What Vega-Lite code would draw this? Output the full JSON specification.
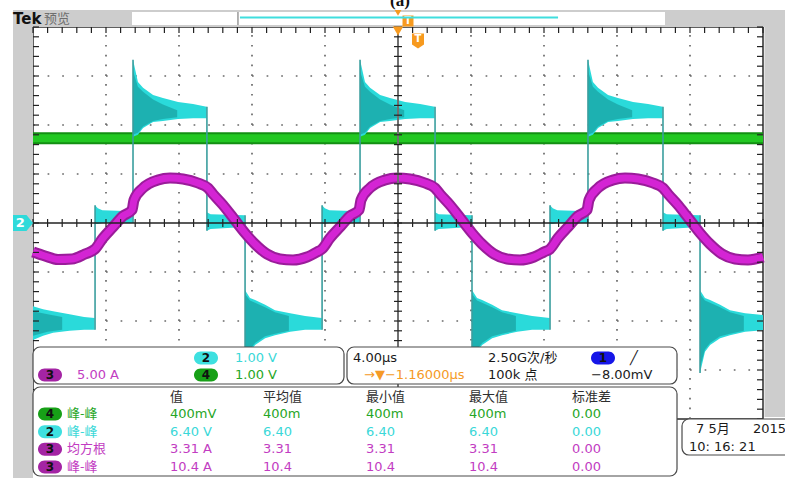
{
"$schema": "https://vega.github.io/schema/vega-lite/v6.json",
"width": 730, "height": 392,
"autosize": {"type": "none"},
"padding": {"left": 33, "top": 27, "right": 22, "bottom": 59},
"background": "white",
"config": {"view": {"stroke": "#2b2b2b", "strokeWidth": 1.5}},
"datasets": {
"ch3": [{"t":-20.000,"v":-0.592},{"t":-19.343,"v":-0.673},{"t":-18.630,"v":-0.745},{"t":-17.863,"v":-0.735},{"t":-17.151,"v":-0.633},{"t":-16.603,"v":-0.531},{"t":-16.164,"v":-0.306},{"t":-15.617,"v":-0.082},{"t":-15.069,"v":0.143},{"t":-14.575,"v":0.265},{"t":-14.466,"v":0.469},{"t":-13.973,"v":0.714},{"t":-13.151,"v":0.878},{"t":-12.493,"v":0.918},{"t":-11.781,"v":0.898},{"t":-10.959,"v":0.816},{"t":-10.411,"v":0.714},{"t":-10.137,"v":0.592},{"t":-9.589,"v":0.367},{"t":-9.151,"v":0.163},{"t":-8.384,"v":-0.204},{"t":-7.836,"v":-0.429},{"t":-7.178,"v":-0.633},{"t":-6.466,"v":-0.735},{"t":-5.753,"v":-0.755},{"t":-4.986,"v":-0.694},{"t":-4.438,"v":-0.592},{"t":-4.164,"v":-0.531},{"t":-3.726,"v":-0.306},{"t":-3.178,"v":-0.082},{"t":-2.630,"v":0.143},{"t":-2.137,"v":0.265},{"t":-2.027,"v":0.469},{"t":-1.534,"v":0.714},{"t":-0.712,"v":0.878},{"t":-0.055,"v":0.918},{"t":0.658,"v":0.898},{"t":1.479,"v":0.816},{"t":2.027,"v":0.714},{"t":2.301,"v":0.592},{"t":2.849,"v":0.367},{"t":3.288,"v":0.163},{"t":4.055,"v":-0.204},{"t":4.603,"v":-0.429},{"t":5.260,"v":-0.633},{"t":5.973,"v":-0.735},{"t":6.685,"v":-0.755},{"t":7.452,"v":-0.694},{"t":8.000,"v":-0.592},{"t":8.329,"v":-0.531},{"t":8.767,"v":-0.306},{"t":9.315,"v":-0.082},{"t":9.863,"v":0.143},{"t":10.356,"v":0.265},{"t":10.466,"v":0.469},{"t":10.959,"v":0.714},{"t":11.781,"v":0.878},{"t":12.438,"v":0.918},{"t":13.151,"v":0.898},{"t":13.973,"v":0.816},{"t":14.521,"v":0.714},{"t":14.795,"v":0.592},{"t":15.342,"v":0.367},{"t":15.781,"v":0.163},{"t":16.548,"v":-0.204},{"t":17.096,"v":-0.429},{"t":17.753,"v":-0.633},{"t":18.466,"v":-0.735},{"t":19.178,"v":-0.755},{"t":20.000,"v":-0.694}],
"ch4": [{"t":-20,"v":1.73},{"t":20,"v":1.73}],
"ch2": [
{"seg":"L0","t":-20.0,"lo":-2.39,"hi":-1.70},{"seg":"L0","t":-19.45,"lo":-2.30,"hi":-1.76},{"seg":"L0","t":-18.9,"lo":-2.24,"hi":-1.80},{"seg":"L0","t":-18.0,"lo":-2.20,"hi":-1.86},{"seg":"L0","t":-17.2,"lo":-2.18,"hi":-1.92},{"seg":"L0","t":-16.62,"lo":-2.18,"hi":-1.94},
{"seg":"M1","t":-16.60,"lo":-0.02,"hi":0.36},{"seg":"M1","t":-16.45,"lo":-0.02,"hi":0.30},{"seg":"M1","t":-16.2,"lo":0.0,"hi":0.26},{"seg":"M1","t":-14.54,"lo":0.0,"hi":0.24},
{"seg":"H1","t":-14.52,"lo":1.76,"hi":3.33},{"seg":"H1","t":-14.25,"lo":1.80,"hi":2.88},{"seg":"H1","t":-13.97,"lo":1.94,"hi":2.76},{"seg":"H1","t":-13.42,"lo":2.06,"hi":2.61},{"seg":"H1","t":-12.88,"lo":2.08,"hi":2.55},{"seg":"H1","t":-12.05,"lo":2.12,"hi":2.47},{"seg":"H1","t":-11.23,"lo":2.14,"hi":2.43},{"seg":"H1","t":-10.49,"lo":2.14,"hi":2.37},
{"seg":"D1","t":-10.47,"lo":-0.16,"hi":0.22},{"seg":"D1","t":-10.27,"lo":-0.12,"hi":0.18},{"seg":"D1","t":-8.40,"lo":-0.08,"hi":0.16},
{"seg":"L1","t":-8.38,"lo":-3.06,"hi":-1.37},{"seg":"L1","t":-8.11,"lo":-2.63,"hi":-1.53},{"seg":"L1","t":-7.83,"lo":-2.49,"hi":-1.57},{"seg":"L1","t":-7.28,"lo":-2.35,"hi":-1.67},{"seg":"L1","t":-6.74,"lo":-2.29,"hi":-1.78},{"seg":"L1","t":-5.91,"lo":-2.22,"hi":-1.84},{"seg":"L1","t":-5.09,"lo":-2.18,"hi":-1.90},{"seg":"L1","t":-4.18,"lo":-2.18,"hi":-1.94},
{"seg":"M2","t":-4.16,"lo":-0.02,"hi":0.36},{"seg":"M2","t":-4.01,"lo":-0.02,"hi":0.30},{"seg":"M2","t":-3.76,"lo":0.0,"hi":0.26},{"seg":"M2","t":-2.10,"lo":0.0,"hi":0.24},
{"seg":"H2","t":-2.08,"lo":1.76,"hi":3.33},{"seg":"H2","t":-1.81,"lo":1.80,"hi":2.88},{"seg":"H2","t":-1.53,"lo":1.94,"hi":2.76},{"seg":"H2","t":-0.98,"lo":2.06,"hi":2.61},{"seg":"H2","t":-0.44,"lo":2.08,"hi":2.55},{"seg":"H2","t":0.39,"lo":2.12,"hi":2.47},{"seg":"H2","t":1.21,"lo":2.14,"hi":2.43},{"seg":"H2","t":2.01,"lo":2.14,"hi":2.37},
{"seg":"D2","t":2.03,"lo":-0.16,"hi":0.22},{"seg":"D2","t":2.23,"lo":-0.12,"hi":0.18},{"seg":"D2","t":4.04,"lo":-0.08,"hi":0.16},
{"seg":"L2","t":4.06,"lo":-3.06,"hi":-1.37},{"seg":"L2","t":4.33,"lo":-2.63,"hi":-1.53},{"seg":"L2","t":4.61,"lo":-2.49,"hi":-1.57},{"seg":"L2","t":5.16,"lo":-2.35,"hi":-1.67},{"seg":"L2","t":5.70,"lo":-2.29,"hi":-1.78},{"seg":"L2","t":6.53,"lo":-2.22,"hi":-1.84},{"seg":"L2","t":7.35,"lo":-2.18,"hi":-1.90},{"seg":"L2","t":8.31,"lo":-2.18,"hi":-1.94},
{"seg":"M3","t":8.33,"lo":-0.02,"hi":0.36},{"seg":"M3","t":8.48,"lo":-0.02,"hi":0.30},{"seg":"M3","t":8.73,"lo":0.0,"hi":0.26},{"seg":"M3","t":10.39,"lo":0.0,"hi":0.24},
{"seg":"H3","t":10.41,"lo":1.76,"hi":3.33},{"seg":"H3","t":10.68,"lo":1.80,"hi":2.88},{"seg":"H3","t":10.96,"lo":1.94,"hi":2.76},{"seg":"H3","t":11.51,"lo":2.06,"hi":2.61},{"seg":"H3","t":12.05,"lo":2.08,"hi":2.55},{"seg":"H3","t":12.88,"lo":2.12,"hi":2.47},{"seg":"H3","t":13.70,"lo":2.14,"hi":2.43},{"seg":"H3","t":14.50,"lo":2.14,"hi":2.37},
{"seg":"D3","t":14.52,"lo":-0.16,"hi":0.22},{"seg":"D3","t":14.72,"lo":-0.12,"hi":0.18},{"seg":"D3","t":16.53,"lo":-0.08,"hi":0.16},
{"seg":"L3","t":16.55,"lo":-3.06,"hi":-1.37},{"seg":"L3","t":16.82,"lo":-2.63,"hi":-1.53},{"seg":"L3","t":17.10,"lo":-2.49,"hi":-1.57},{"seg":"L3","t":17.65,"lo":-2.35,"hi":-1.67},{"seg":"L3","t":18.19,"lo":-2.29,"hi":-1.78},{"seg":"L3","t":19.02,"lo":-2.22,"hi":-1.84},{"seg":"L3","t":20.0,"lo":-2.19,"hi":-1.88}],
"ch2dk": [
{"seg":"L0","t":-20.0,"lo":-2.30,"hi":-1.80},{"seg":"L0","t":-19.2,"lo":-2.22,"hi":-1.86},{"seg":"L0","t":-18.4,"lo":-2.18,"hi":-1.92},
{"seg":"H1","t":-14.52,"lo":1.80,"hi":3.1},{"seg":"H1","t":-14.25,"lo":1.84,"hi":2.78},{"seg":"H1","t":-13.97,"lo":1.97,"hi":2.68},{"seg":"H1","t":-13.42,"lo":2.08,"hi":2.52},{"seg":"H1","t":-12.88,"lo":2.12,"hi":2.42},{"seg":"H1","t":-12.1,"lo":2.16,"hi":2.3},
{"seg":"L1","t":-8.38,"lo":-2.95,"hi":-1.45},{"seg":"L1","t":-8.11,"lo":-2.58,"hi":-1.58},{"seg":"L1","t":-7.83,"lo":-2.45,"hi":-1.63},{"seg":"L1","t":-7.28,"lo":-2.31,"hi":-1.72},{"seg":"L1","t":-6.74,"lo":-2.26,"hi":-1.82},{"seg":"L1","t":-5.98,"lo":-2.2,"hi":-1.9},
{"seg":"H2","t":-2.08,"lo":1.80,"hi":3.1},{"seg":"H2","t":-1.81,"lo":1.84,"hi":2.78},{"seg":"H2","t":-1.53,"lo":1.97,"hi":2.68},{"seg":"H2","t":-0.98,"lo":2.08,"hi":2.52},{"seg":"H2","t":-0.44,"lo":2.12,"hi":2.42},{"seg":"H2","t":0.34,"lo":2.16,"hi":2.3},
{"seg":"L2","t":4.06,"lo":-2.95,"hi":-1.45},{"seg":"L2","t":4.33,"lo":-2.58,"hi":-1.58},{"seg":"L2","t":4.61,"lo":-2.45,"hi":-1.63},{"seg":"L2","t":5.16,"lo":-2.31,"hi":-1.72},{"seg":"L2","t":5.70,"lo":-2.26,"hi":-1.82},{"seg":"L2","t":6.46,"lo":-2.2,"hi":-1.9},
{"seg":"H3","t":10.41,"lo":1.80,"hi":3.1},{"seg":"H3","t":10.68,"lo":1.84,"hi":2.78},{"seg":"H3","t":10.96,"lo":1.97,"hi":2.68},{"seg":"H3","t":11.51,"lo":2.08,"hi":2.52},{"seg":"H3","t":12.05,"lo":2.12,"hi":2.42},{"seg":"H3","t":12.83,"lo":2.16,"hi":2.3},
{"seg":"L3","t":16.55,"lo":-2.95,"hi":-1.45},{"seg":"L3","t":16.82,"lo":-2.58,"hi":-1.58},{"seg":"L3","t":17.10,"lo":-2.45,"hi":-1.63},{"seg":"L3","t":17.65,"lo":-2.31,"hi":-1.72},{"seg":"L3","t":18.19,"lo":-2.26,"hi":-1.82},{"seg":"L3","t":18.95,"lo":-2.2,"hi":-1.9}],
"ch2e": [{"t":-16.60,"a":-2.18,"b":0.36},{"t":-14.52,"a":0.0,"b":3.33},{"t":-10.47,"a":2.37,"b":-0.16},{"t":-8.38,"a":0.16,"b":-3.06},{"t":-4.16,"a":-2.18,"b":0.36},{"t":-2.08,"a":0.0,"b":3.33},{"t":2.03,"a":2.37,"b":-0.16},{"t":4.055,"a":0.16,"b":-3.06},{"t":8.33,"a":-2.18,"b":0.36},{"t":10.41,"a":0.0,"b":3.33},{"t":14.52,"a":2.37,"b":-0.16},{"t":16.55,"a":0.16,"b":-3.06}],
"gx": [{"t":-16,"a":-4,"b":4},{"t":-12,"a":-4,"b":4},{"t":-8,"a":-4,"b":4},{"t":-4,"a":-4,"b":4},{"t":4,"a":-4,"b":4},{"t":8,"a":-4,"b":4},{"t":12,"a":-4,"b":4},{"t":16,"a":-4,"b":4}],
"gy": [{"v":-3,"a":-20,"b":20},{"v":-2,"a":-20,"b":20},{"v":-1,"a":-20,"b":20},{"v":1,"a":-20,"b":20},{"v":2,"a":-20,"b":20},{"v":3,"a":-20,"b":20}],
"cv": [{"t":0,"a":-4,"b":4}],
"chz": [{"v":0,"a":-20,"b":20}],
"topline": [{"t":-8.66,"t2":8.77,"v":4.194}],
"bracket": [{"t":-8.77,"a":4.306,"b":4.041}],
"xm": [{"t":-20,"c":0,"e":4},{"t":-19.2,"c":0,"e":4},{"t":-18.4,"c":0,"e":4},{"t":-17.6,"c":0,"e":4},{"t":-16.8,"c":0,"e":4},{"t":-16,"c":0,"e":4},{"t":-15.2,"c":0,"e":4},{"t":-14.4,"c":0,"e":4},{"t":-13.6,"c":0,"e":4},{"t":-12.8,"c":0,"e":4},{"t":-12,"c":0,"e":4},{"t":-11.2,"c":0,"e":4},{"t":-10.4,"c":0,"e":4},{"t":-9.6,"c":0,"e":4},{"t":-8.8,"c":0,"e":4},{"t":-8,"c":0,"e":4},{"t":-7.2,"c":0,"e":4},{"t":-6.4,"c":0,"e":4},{"t":-5.6,"c":0,"e":4},{"t":-4.8,"c":0,"e":4},{"t":-4,"c":0,"e":4},{"t":-3.2,"c":0,"e":4},{"t":-2.4,"c":0,"e":4},{"t":-1.6,"c":0,"e":4},{"t":-0.8,"c":0,"e":4},{"t":0,"c":0,"e":4},{"t":0.8,"c":0,"e":4},{"t":1.6,"c":0,"e":4},{"t":2.4,"c":0,"e":4},{"t":3.2,"c":0,"e":4},{"t":4,"c":0,"e":4},{"t":4.8,"c":0,"e":4},{"t":5.6,"c":0,"e":4},{"t":6.4,"c":0,"e":4},{"t":7.2,"c":0,"e":4},{"t":8,"c":0,"e":4},{"t":8.8,"c":0,"e":4},{"t":9.6,"c":0,"e":4},{"t":10.4,"c":0,"e":4},{"t":11.2,"c":0,"e":4},{"t":12,"c":0,"e":4},{"t":12.8,"c":0,"e":4},{"t":13.6,"c":0,"e":4},{"t":14.4,"c":0,"e":4},{"t":15.2,"c":0,"e":4},{"t":16,"c":0,"e":4},{"t":16.8,"c":0,"e":4},{"t":17.6,"c":0,"e":4},{"t":18.4,"c":0,"e":4},{"t":19.2,"c":0,"e":4},{"t":20,"c":0,"e":4}],
"ym": [{"v":-4,"c":0,"l":-20,"r":20},{"v":-3.8,"c":0,"l":-20,"r":20},{"v":-3.6,"c":0,"l":-20,"r":20},{"v":-3.4,"c":0,"l":-20,"r":20},{"v":-3.2,"c":0,"l":-20,"r":20},{"v":-3,"c":0,"l":-20,"r":20},{"v":-2.8,"c":0,"l":-20,"r":20},{"v":-2.6,"c":0,"l":-20,"r":20},{"v":-2.4,"c":0,"l":-20,"r":20},{"v":-2.2,"c":0,"l":-20,"r":20},{"v":-2,"c":0,"l":-20,"r":20},{"v":-1.8,"c":0,"l":-20,"r":20},{"v":-1.6,"c":0,"l":-20,"r":20},{"v":-1.4,"c":0,"l":-20,"r":20},{"v":-1.2,"c":0,"l":-20,"r":20},{"v":-1,"c":0,"l":-20,"r":20},{"v":-0.8,"c":0,"l":-20,"r":20},{"v":-0.6,"c":0,"l":-20,"r":20},{"v":-0.4,"c":0,"l":-20,"r":20},{"v":-0.2,"c":0,"l":-20,"r":20},{"v":0,"c":0,"l":-20,"r":20},{"v":0.2,"c":0,"l":-20,"r":20},{"v":0.4,"c":0,"l":-20,"r":20},{"v":0.6,"c":0,"l":-20,"r":20},{"v":0.8,"c":0,"l":-20,"r":20},{"v":1,"c":0,"l":-20,"r":20},{"v":1.2,"c":0,"l":-20,"r":20},{"v":1.4,"c":0,"l":-20,"r":20},{"v":1.6,"c":0,"l":-20,"r":20},{"v":1.8,"c":0,"l":-20,"r":20},{"v":2,"c":0,"l":-20,"r":20},{"v":2.2,"c":0,"l":-20,"r":20},{"v":2.4,"c":0,"l":-20,"r":20},{"v":2.6,"c":0,"l":-20,"r":20},{"v":2.8,"c":0,"l":-20,"r":20},{"v":3,"c":0,"l":-20,"r":20},{"v":3.2,"c":0,"l":-20,"r":20},{"v":3.4,"c":0,"l":-20,"r":20},{"v":3.6,"c":0,"l":-20,"r":20},{"v":3.8,"c":0,"l":-20,"r":20},{"v":4,"c":0,"l":-20,"r":20}],
"strips": [{"x1":-21.096,"x2":-20.0,"y1":4.347,"y2":-5.3},{"x1":-21.096,"x2":21.3,"y1":4.347,"y2":4.0},{"x1":20.08,"x2":21.3,"y1":4.347,"y2":-3.959}],
"box": [{"x1":-14.575,"x2":14.63,"y1":4.306,"y2":4.041}],
"panels": [{"x1":-20.0,"x2":-2.959,"y1":-2.531,"y2":-3.286},{"x1":-2.795,"x2":15.288,"y1":-2.531,"y2":-3.286},{"x1":-20.0,"x2":15.288,"y1":-3.347,"y2":-5.163},{"x1":15.562,"x2":21.6,"y1":-4.0,"y2":-4.735}],
"badges": [{"t":-10.521,"v":-2.755,"s":"2","c":"C"},{"t":-19.068,"v":-3.102,"s":"3","c":"M"},{"t":-10.521,"v":-3.102,"s":"4","c":"G"},{"t":11.233,"v":-2.755,"s":"1","c":"B"},{"t":-19.068,"v":-3.898,"s":"4","c":"G"},{"t":-19.068,"v":-4.259,"s":"2","c":"C"},{"t":-19.068,"v":-4.618,"s":"3","c":"M"},{"t":-19.068,"v":-4.980,"s":"3","c":"M"}],
"txt": [{"t":-8.932,"v":-2.755,"s":"1.00 V","c":"c"},{"t":-17.589,"v":-3.102,"s":"5.00 A","c":"m"},{"t":-8.932,"v":-3.102,"s":"1.00 V","c":"g"},
{"t":-2.466,"v":-2.755,"s":"4.00µs","c":"k"},{"t":-1.863,"v":-3.102,"s":"→▼−1.16000µs","c":"o"},{"t":4.932,"v":-2.755,"s":"2.50G次/秒","c":"k"},{"t":4.932,"v":-3.102,"s":"100k 点","c":"k"},{"t":12.712,"v":-2.755,"s":"╱","c":"k"},{"t":10.575,"v":-3.102,"s":"−8.00mV","c":"k"},
{"t":-12.493,"v":-3.898,"s":"400mV","c":"g"},{"t":-7.397,"v":-3.898,"s":"400m","c":"g"},{"t":-1.753,"v":-3.898,"s":"400m","c":"g"},{"t":3.890,"v":-3.898,"s":"400m","c":"g"},{"t":9.534,"v":-3.898,"s":"0.00","c":"g"},
{"t":-12.493,"v":-4.259,"s":"6.40 V","c":"c"},{"t":-7.397,"v":-4.259,"s":"6.40","c":"c"},{"t":-1.753,"v":-4.259,"s":"6.40","c":"c"},{"t":3.890,"v":-4.259,"s":"6.40","c":"c"},{"t":9.534,"v":-4.259,"s":"0.00","c":"c"},
{"t":-12.493,"v":-4.618,"s":"3.31 A","c":"m"},{"t":-7.397,"v":-4.618,"s":"3.31","c":"m"},{"t":-1.753,"v":-4.618,"s":"3.31","c":"m"},{"t":3.890,"v":-4.618,"s":"3.31","c":"m"},{"t":9.534,"v":-4.618,"s":"0.00","c":"m"},
{"t":-12.493,"v":-4.980,"s":"10.4 A","c":"m"},{"t":-7.397,"v":-4.980,"s":"10.4","c":"m"},{"t":-1.753,"v":-4.980,"s":"10.4","c":"m"},{"t":3.890,"v":-4.980,"s":"10.4","c":"m"},{"t":9.534,"v":-4.980,"s":"0.00","c":"m"},
{"t":16.329,"v":-4.204,"s":"7 5月","c":"k"},{"t":19.452,"v":-4.204,"s":"2015","c":"k"},{"t":15.945,"v":-4.571,"s":"10: 16: 21","c":"k"}],
"cjk": [{"t":-12.493,"v":-3.551,"s":"值","c":"h"},{"t":-7.397,"v":-3.551,"s":"平均值","c":"h"},{"t":-1.753,"v":-3.551,"s":"最小值","c":"h"},{"t":3.890,"v":-3.551,"s":"最大值","c":"h"},{"t":9.534,"v":-3.551,"s":"标准差","c":"h"},
{"t":-18.137,"v":-3.898,"s":"峰-峰","c":"g"},{"t":-18.137,"v":-4.259,"s":"峰-峰","c":"c"},{"t":-18.137,"v":-4.618,"s":"均方根","c":"m"},{"t":-18.137,"v":-4.980,"s":"峰-峰","c":"m"},
{"t":-19.397,"v":4.163,"s":"预览","c":"y"}]
},
"encoding": {
  "x": {"field": "t", "type": "quantitative", "scale": {"domain": [-20, 20], "nice": false, "zero": false}, "axis": null},
  "y": {"field": "v", "type": "quantitative", "scale": {"domain": [-4, 4], "nice": false, "zero": false}, "axis": null}
},
"layer": [
{"data": {"name": "strips"}, "mark": {"type": "rect", "fill": "#cdcdcd"}, "encoding": {"x": {"field": "x1", "type": "quantitative", "axis": null}, "x2": {"field": "x2"}, "y": {"field": "y1", "type": "quantitative", "axis": null}, "y2": {"field": "y2"}}},
{"data": {"name": "box"}, "mark": {"type": "rect", "fill": "#ffffff"}, "encoding": {"x": {"field": "x1", "type": "quantitative", "axis": null}, "x2": {"field": "x2"}, "y": {"field": "y1", "type": "quantitative", "axis": null}, "y2": {"field": "y2"}}},
{"data": {"name": "gx"}, "mark": {"type": "rule", "color": "#6a6a6a", "strokeWidth": 1.7, "strokeDash": [1.7, 8.1]}, "encoding": {"y": {"field": "a", "type": "quantitative", "axis": null}, "y2": {"field": "b"}}},
{"data": {"name": "gy"}, "mark": {"type": "rule", "color": "#6a6a6a", "strokeWidth": 1.7, "strokeDash": [1.7, 12.9]}, "encoding": {"x": {"field": "a", "type": "quantitative", "axis": null}, "x2": {"field": "b"}}},
{"data": {"name": "ch4"}, "mark": {"type": "line", "color": "#138f13", "strokeWidth": 12}},
{"data": {"name": "ch4"}, "mark": {"type": "line", "color": "#22c822", "strokeWidth": 8}},
{"data": {"name": "ch2"}, "mark": {"type": "area", "color": "#2adada"}, "encoding": {"y": {"field": "lo", "type": "quantitative", "axis": null}, "y2": {"field": "hi"}, "detail": {"field": "seg"}}},
{"data": {"name": "ch2dk"}, "mark": {"type": "area", "color": "#129090", "opacity": 0.55}, "encoding": {"y": {"field": "lo", "type": "quantitative", "axis": null}, "y2": {"field": "hi"}, "detail": {"field": "seg"}}},
{"data": {"name": "ch2e"}, "mark": {"type": "rule", "color": "#3a9e9e", "strokeWidth": 1.6}, "encoding": {"y": {"field": "a", "type": "quantitative", "axis": null}, "y2": {"field": "b"}}},
{"data": {"name": "ch3"}, "mark": {"type": "line", "color": "#9a1c9a", "strokeWidth": 11, "interpolate": "monotone"}},
{"data": {"name": "ch3"}, "mark": {"type": "line", "color": "#d424d4", "strokeWidth": 7, "interpolate": "monotone"}},
{"data": {"name": "chz"}, "mark": {"type": "rule", "color": "#222222", "strokeWidth": 1.3}, "encoding": {"x": {"field": "a", "type": "quantitative", "axis": null}, "x2": {"field": "b"}}},
{"data": {"name": "cv"}, "mark": {"type": "rule", "color": "#707070", "strokeWidth": 2}, "encoding": {"y": {"field": "a", "type": "quantitative", "axis": null}, "y2": {"field": "b"}}},
{"data": {"name": "xm"}, "mark": {"type": "tick", "orient": "vertical", "color": "#222222", "thickness": 1.2, "size": 8, "opacity": 1}, "encoding": {"y": {"field": "c", "type": "quantitative", "axis": null}}},
{"data": {"name": "xm"}, "mark": {"type": "tick", "orient": "vertical", "color": "#222222", "thickness": 1.2, "size": 6, "yOffset": 3, "opacity": 1}, "encoding": {"y": {"field": "e", "type": "quantitative", "axis": null}}},
{"data": {"name": "ym"}, "mark": {"type": "tick", "orient": "horizontal", "color": "#222222", "thickness": 1.2, "size": 8, "opacity": 1}, "encoding": {"x": {"field": "c", "type": "quantitative", "axis": null}}},
{"data": {"name": "ym"}, "mark": {"type": "tick", "orient": "horizontal", "color": "#222222", "thickness": 1.2, "size": 6, "xOffset": 3, "opacity": 1}, "encoding": {"x": {"field": "l", "type": "quantitative", "axis": null}}},
{"data": {"name": "ym"}, "mark": {"type": "tick", "orient": "horizontal", "color": "#222222", "thickness": 1.2, "size": 6, "xOffset": -3, "opacity": 1}, "encoding": {"x": {"field": "r", "type": "quantitative", "axis": null}}},
{"data": {"values": [{"t": 0, "v": 3.918}]}, "mark": {"type": "point", "shape": "triangle-down", "filled": true, "color": "#f79a1e", "size": 110, "opacity": 1}},
{"data": {"values": [{"t": 0, "v": 4.29}]}, "mark": {"type": "point", "shape": "triangle-down", "filled": true, "color": "#f79a1e", "size": 45, "opacity": 1}},
{"data": {"values": [{"t": 1.096, "v": 3.714}]}, "mark": {"type": "point", "shape": "M-0.8,-1L0.8,-1L0.8,0.45L0,1L-0.8,0.45Z", "filled": true, "color": "#f79a1e", "size": 225, "opacity": 1}},
{"data": {"values": [{"t": 0.548, "v": 4.122}, {"t": -2.192, "v": -3.102}]}, "mark": {"type": "point", "shape": "square", "filled": true, "color": "#f79a1e", "size": 121, "opacity": 1}},
{"data": {"values": [{"t": 1.096, "v": 3.75, "s": "T"}, {"t": 0.548, "v": 4.122, "s": "T"}, {"t": -2.192, "v": -3.102, "s": "T"}]}, "mark": {"type": "text", "color": "#ffffff", "font": "DejaVu Sans", "fontWeight": "bold", "fontSize": 10, "align": "center", "baseline": "middle"}, "encoding": {"text": {"field": "s"}}},
{"data": {"values": [{"t": -20.548, "v": 0}]}, "mark": {"type": "point", "shape": "M-1,-0.8L0.35,-0.8L1,0L0.35,0.8L-1,0.8Z", "filled": true, "color": "#2fdada", "size": 400, "opacity": 1}},
{"data": {"values": [{"t": -20.7, "v": 0, "s": "2"}]}, "mark": {"type": "text", "color": "#ffffff", "font": "DejaVu Sans", "fontWeight": "bold", "fontSize": 13, "align": "center", "baseline": "middle"}, "encoding": {"text": {"field": "s"}}},
{"data": {"name": "topline"}, "mark": {"type": "rule", "color": "#3fdede", "strokeWidth": 2}, "encoding": {"x2": {"field": "t2"}}},
{"data": {"name": "bracket"}, "mark": {"type": "rule", "color": "#999999", "strokeWidth": 1.5}, "encoding": {"y": {"field": "a", "type": "quantitative", "axis": null}, "y2": {"field": "b"}}},
{"data": {"name": "panels"}, "mark": {"type": "rect", "fill": "#ffffff", "stroke": "#4a4a4a", "strokeWidth": 1.2, "cornerRadius": 7}, "encoding": {"x": {"field": "x1", "type": "quantitative", "axis": null}, "x2": {"field": "x2"}, "y": {"field": "y1", "type": "quantitative", "axis": null}, "y2": {"field": "y2"}}},
{"data": {"name": "badges"}, "mark": {"type": "point", "shape": "M-0.46,-0.54L0.46,-0.54A0.54,0.54 0 0 1 0.46,0.54L-0.46,0.54A0.54,0.54 0 0 1 -0.46,-0.54Z", "filled": true, "size": 576, "opacity": 1}, "encoding": {"color": {"field": "c", "type": "nominal", "legend": null, "scale": {"domain": ["c","m","g","k","o","h","y","C","M","G","B"], "range": ["#3ad8d8","#c23cc2","#26a626","#1a1a1a","#f59a26","#2e2e2e","#6e6e6e","#3ee0e0","#a424a4","#17a017","#1616e8"]}}}},
{"data": {"name": "badges"}, "mark": {"type": "text", "color": "#111111", "font": "DejaVu Sans", "fontWeight": "bold", "fontSize": 12, "align": "center", "baseline": "middle"}, "encoding": {"text": {"field": "s"}}},
{"data": {"name": "txt"}, "mark": {"type": "text", "font": "DejaVu Sans, Noto Sans CJK SC", "fontSize": 13, "align": "left", "baseline": "middle"}, "encoding": {"text": {"field": "s"}, "color": {"field": "c", "type": "nominal", "legend": null, "scale": {"domain": ["c","m","g","k","o","h","y","C","M","G","B"], "range": ["#3ad8d8","#c23cc2","#26a626","#1a1a1a","#f59a26","#2e2e2e","#6e6e6e","#3ee0e0","#a424a4","#17a017","#1616e8"]}}}},
{"data": {"name": "cjk"}, "mark": {"type": "text", "font": "Noto Sans CJK SC", "fontSize": 13, "align": "left", "baseline": "middle"}, "encoding": {"text": {"field": "s"}, "color": {"field": "c", "type": "nominal", "legend": null, "scale": {"domain": ["c","m","g","k","o","h","y","C","M","G","B"], "range": ["#3ad8d8","#c23cc2","#26a626","#1a1a1a","#f59a26","#2e2e2e","#6e6e6e","#3ee0e0","#a424a4","#17a017","#1616e8"]}}}},
{"data": {"values": [{"t": -21.096, "v": 4.163, "s": "Tek"}]}, "mark": {"type": "text", "font": "DejaVu Sans", "fontWeight": "bold", "fontSize": 15, "color": "#111111", "align": "left", "baseline": "middle"}, "encoding": {"text": {"field": "s"}}},
{"data": {"values": [{"t": 0.11, "v": 4.43, "s": "(a)"}]}, "mark": {"type": "text", "font": "Liberation Serif", "fontWeight": "bold", "fontSize": 17, "color": "#111111", "align": "center", "baseline": "alphabetic"}, "encoding": {"text": {"field": "s"}}}
]
}
